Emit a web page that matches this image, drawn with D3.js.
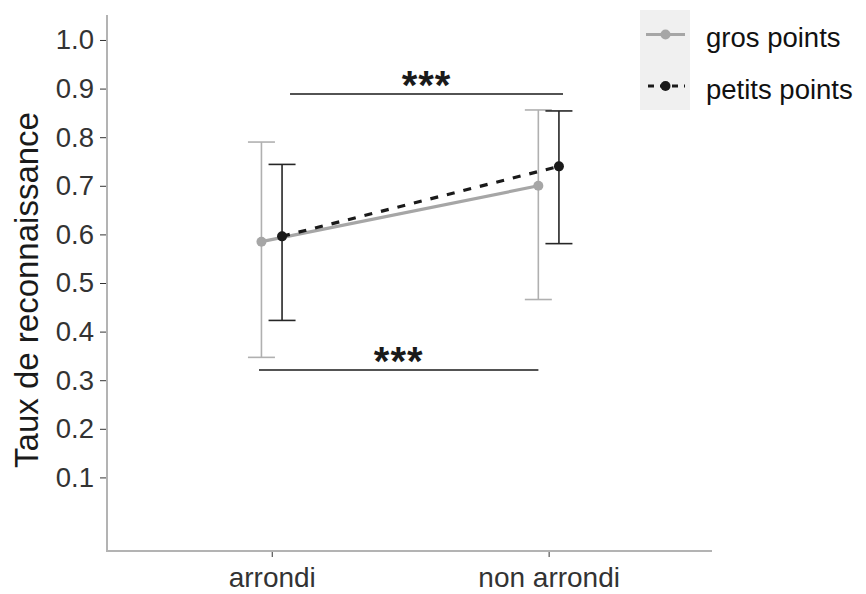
<!DOCTYPE html>
<html><head><meta charset="utf-8">
<script src="https://cdn.jsdelivr.net/npm/d3@7"></script>
<style>body{margin:0;background:#fff}svg{display:block}text{font-family:"Liberation Sans",Arial,sans-serif}</style>
</head><body>
<script>
const categories = ["arrondi", "non arrondi"];
const seriesNames = ["gros points", "petits points"];
const grosMean = [0.585, 0.700];
const grosLow = [0.347, 0.466];
const grosHigh = [0.790, 0.856];
const petitsMean = [0.596, 0.740];
const petitsLow = [0.423, 0.581];
const petitsHigh = [0.744, 0.854];
const yTicks = [0.1, 0.2, 0.3, 0.4, 0.5, 0.6, 0.7, 0.8, 0.9, 1.0];
const sigX1 = [1.066, 0.954];
const sigX2 = [2.052, 1.963];
const sigY = [0.889, 0.321];
const sigLabels = ["***", "***"];

const W = 866, H = 594;
const svg = d3.select("body").append("svg").attr("width", W).attr("height", H);

const x = d3.scaleLinear().domain([0.405, 2.59]).range([107, 712]);
const y = d3.scaleLinear().domain([-0.0514, 1.0514]).range([551, 15]);
const dodge = 0.0372;

const series = [
  {name: seriesNames[0], mean: grosMean, lo: grosLow, hi: grosHigh, off: -dodge, color: "#a6a6a6", ebColor: "#b0b0b0", dash: null},
  {name: seriesNames[1], mean: petitsMean, lo: petitsLow, hi: petitsHigh, off: dodge, color: "#1a1a1a", ebColor: "#262626", dash: "8,9"}
];

// axes
const yAxis = d3.axisLeft(y).tickValues(yTicks).tickFormat(d3.format(".1f")).tickSize(7).tickPadding(6);
const gy = svg.append("g").attr("transform", "translate(107,0)").call(yAxis);
gy.select(".domain").remove();
gy.selectAll(".tick line").attr("stroke", "#333").attr("stroke-width", 1);
gy.selectAll(".tick text").attr("font-size", 27.5).attr("fill", "#333");

const xAxis = d3.axisBottom(x).tickValues([1, 2]).tickFormat((d, i) => categories[i]).tickSize(6).tickPadding(10);
const gx = svg.append("g").attr("transform", "translate(0,551)").call(xAxis);
gx.select(".domain").remove();
gx.selectAll(".tick line").attr("stroke", "#333").attr("stroke-width", 1);
gx.selectAll(".tick text").attr("font-size", 28).attr("fill", "#333");

svg.append("line").attr("x1", 107).attr("x2", 107).attr("y1", y.range()[1]).attr("y2", 552).attr("stroke", "#b3b3b3").attr("stroke-width", 2);
svg.append("line").attr("x1", 106).attr("x2", x.range()[1]).attr("y1", 551).attr("y2", 551).attr("stroke", "#b3b3b3").attr("stroke-width", 2);

// y title
svg.append("text").attr("transform", "translate(38,290) rotate(-90)").attr("text-anchor", "middle")
  .attr("font-size", 33).attr("fill", "#1a1a1a").text("Taux de reconnaissance");

// error bars
const capHalf = 13.5;
series.forEach(s => {
  const g = svg.append("g");
  s.mean.forEach((m, i) => {
    const cx = x(i + 1 + s.off);
    g.append("line").attr("x1", cx).attr("x2", cx).attr("y1", y(s.lo[i])).attr("y2", y(s.hi[i])).attr("stroke", s.ebColor).attr("stroke-width", 1.6);
    [s.lo[i], s.hi[i]].forEach(v => {
      g.append("line").attr("x1", cx - capHalf).attr("x2", cx + capHalf).attr("y1", y(v)).attr("y2", y(v)).attr("stroke", s.ebColor).attr("stroke-width", 1.6);
    });
  });
});

// lines and points
const line = d3.line().x(d => d.x).y(d => d.y);
series.forEach(s => {
  const pts = s.mean.map((m, i) => ({x: x(i + 1 + s.off), y: y(m)}));
  const p = svg.append("path").attr("d", line(pts)).attr("fill", "none").attr("stroke", s.color).attr("stroke-width", 3.2);
  if (s.dash) p.attr("stroke-dasharray", s.dash);
  svg.selectAll(null).data(pts).enter().append("circle").attr("cx", d => d.x).attr("cy", d => d.y).attr("r", 5).attr("fill", s.color);
});

// significance
sigLabels.forEach((lab, i) => {
  svg.append("line").attr("x1", x(sigX1[i])).attr("x2", x(sigX2[i])).attr("y1", y(sigY[i])).attr("y2", y(sigY[i])).attr("stroke", "#1a1a1a").attr("stroke-width", 1.6);
  svg.append("text").attr("x", (x(sigX1[i]) + x(sigX2[i])) / 2).attr("y", y(sigY[i]) + 5).attr("text-anchor", "middle")
    .attr("font-size", 40).attr("font-weight", "bold").attr("letter-spacing", 1).attr("fill", "#1a1a1a").text(lab);
});

// legend
const lg = svg.append("g");
lg.append("rect").attr("x", 640).attr("y", 10).attr("width", 50).attr("height", 100).attr("fill", "#f0f0f0");
series.forEach((s, i) => {
  const cy = 34.5 + i * 51.5;
  const l = lg.append("line").attr("x1", 646).attr("x2", 685).attr("y1", cy).attr("y2", cy).attr("stroke", s.color).attr("stroke-width", 3.2);
  if (s.dash) l.attr("stroke-dasharray", "6,6").attr("stroke-dashoffset", -2);
  lg.append("circle").attr("cx", 665.5).attr("cy", cy).attr("r", 5).attr("fill", s.color);
  lg.append("text").attr("x", 706).attr("y", cy + 12.5).attr("font-size", 27.5).attr("fill", "#111").text(s.name);
});
</script>
</body></html>
